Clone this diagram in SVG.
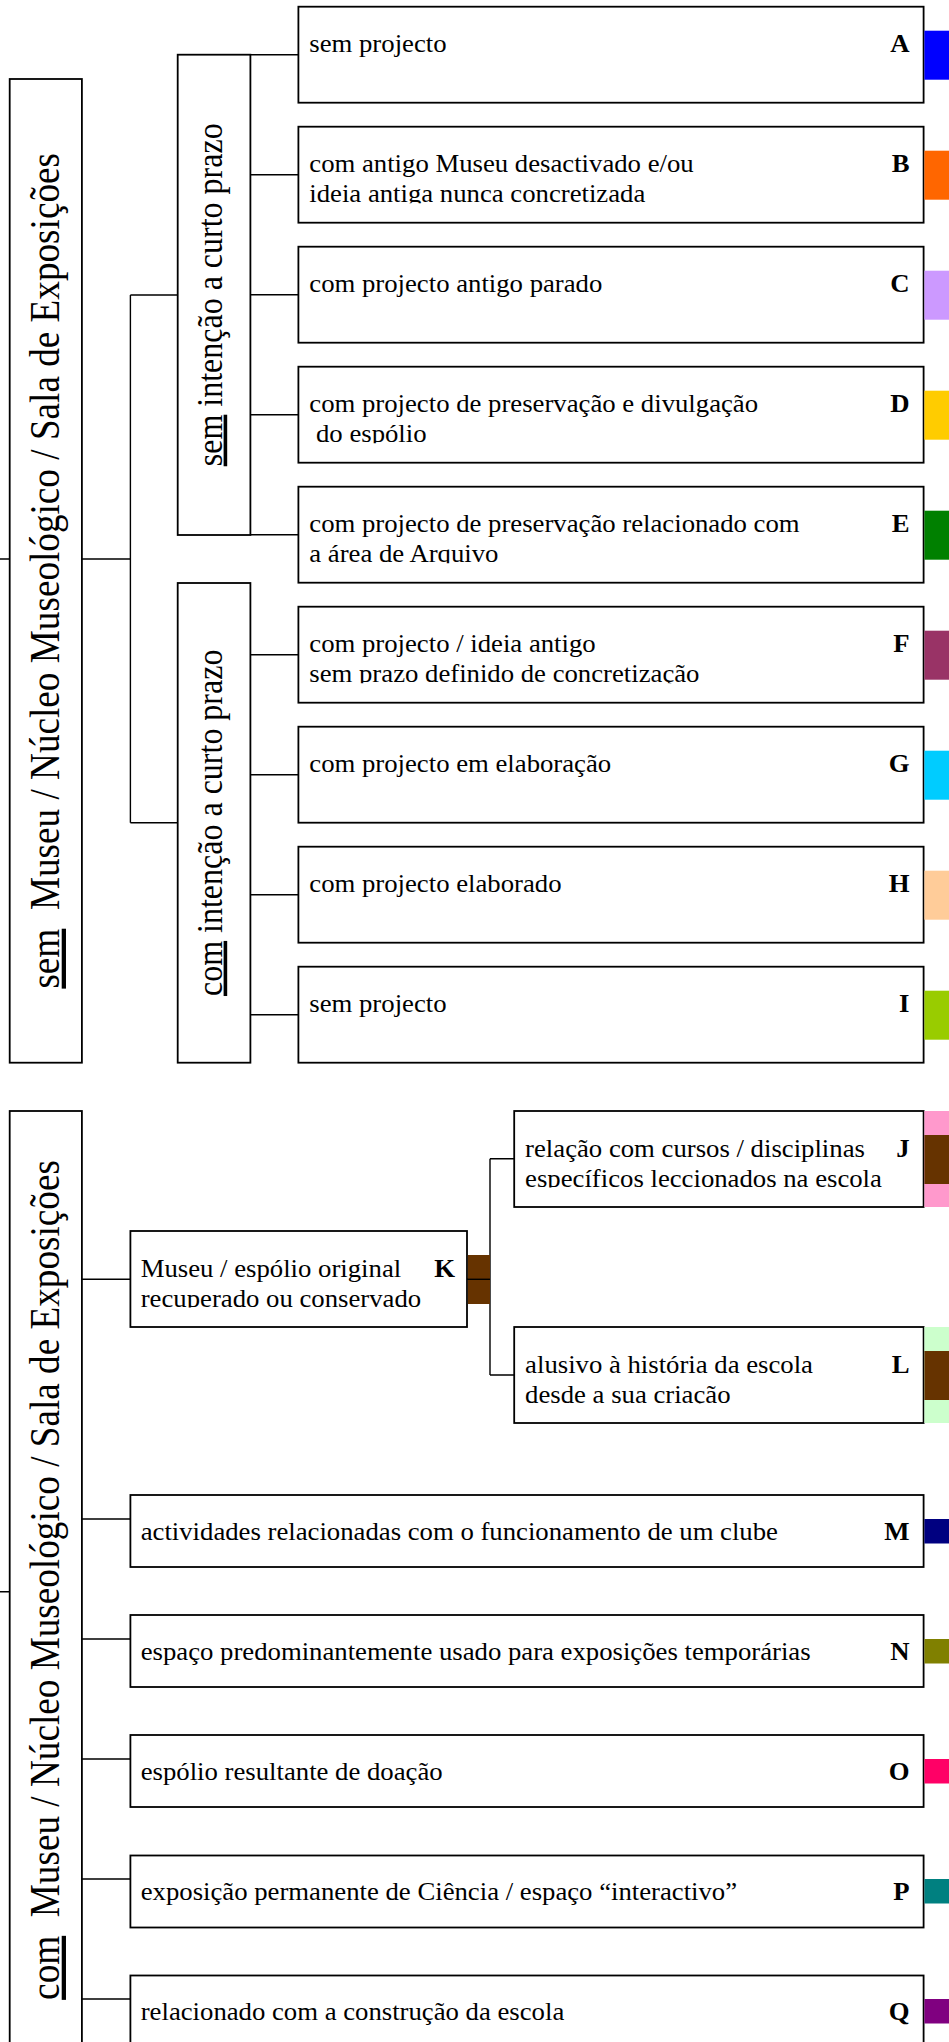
<svg xmlns="http://www.w3.org/2000/svg" width="949" height="2042" viewBox="0 0 949 2042">
<style>
.bg{fill:#fff}
.box{fill:#fff;stroke:#000;stroke-width:1.8}
.c{stroke:#000;stroke-width:1.4;fill:none}
.t{font-family:"Liberation Serif","Times New Roman",serif;font-size:24.3px;fill:#000}
.l{font-weight:bold}
.v1{font-size:37.2px}
.v2{font-size:32px}
</style>
<defs>
<clipPath id="cB"><rect x="300" y="128" width="620" height="75.2"/></clipPath>
<clipPath id="cD"><rect x="300" y="368" width="620" height="75.2"/></clipPath>
<clipPath id="cE"><rect x="300" y="488" width="620" height="75.2"/></clipPath>
<clipPath id="cF"><rect x="300" y="608" width="620" height="75.2"/></clipPath>
<clipPath id="cJ"><rect x="516" y="1112" width="400" height="75.5"/></clipPath>
<clipPath id="cK"><rect x="132" y="1232" width="330" height="75.5"/></clipPath>
<clipPath id="cL"><rect x="516" y="1328" width="400" height="75.5"/></clipPath>
</defs>
<rect class="bg" x="0" y="0" width="949" height="2042"/>

<g id="connectors">
<path class="c" d="M0,559H9.7M81.9,559H130.4M130.4,295V822.7M130.4,295H177.7M130.4,822.7H177.7"/>
<path class="c" d="M250.4,54.7H298.4M250.4,174.7H298.4M250.4,294.7H298.4M250.4,414.7H298.4M250.4,534.7H298.4"/>
<path class="c" d="M250.4,654.7H298.4M250.4,774.7H298.4M250.4,894.7H298.4M250.4,1014.7H298.4"/>
<path class="c" d="M0,1591.7H9.7M81.9,1279.3H130.4M467,1279.3H490M490,1158.7V1375M490,1158.7H514.2M490,1375H514.2"/>
<path class="c" d="M81.9,1519H130.4M81.9,1639H130.4M81.9,1759H130.4M81.9,1879H130.4M81.9,1999H130.4"/>
</g>

<g id="node-sem-museu">
<rect class="box" x="9.7" y="79" width="72.2" height="983.7"/>
<text class="t v1" text-anchor="middle" transform="translate(58.5,570.8) scale(1.15,1) rotate(-90)"><tspan text-decoration="underline">sem</tspan>&#160; Museu / Núcleo Museológico / Sala de Exposições</text>
</g>

<g id="node-sem-intencao">
<rect class="box" x="177.7" y="54.7" width="72.7" height="480.3"/>
<text class="t v2" text-anchor="middle" transform="translate(221.5,294.8) scale(1.12,1) rotate(-90)"><tspan text-decoration="underline">sem</tspan> intenção a curto prazo</text>
</g>

<g id="node-com-intencao">
<rect class="box" x="177.7" y="583" width="72.7" height="479.7"/>
<text class="t v2" text-anchor="middle" transform="translate(221.5,822.8) scale(1.12,1) rotate(-90)"><tspan text-decoration="underline">com</tspan> intenção a curto prazo</text>
</g>

<g id="node-A">
<rect class="box" x="298.4" y="6.7" width="625.2" height="96"/>
<rect x="924.4" y="30.7" width="26" height="49" fill="#0000FF"/>
<text class="t" transform="translate(309.3,52.2) scale(1.1,1)">sem projecto</text>
<text class="t l" text-anchor="end" transform="translate(909.5,52.2) scale(1.1,1)">A</text>
</g>

<g id="node-B">
<rect class="box" x="298.4" y="126.7" width="625.2" height="96"/>
<rect x="924.4" y="150.7" width="26" height="49" fill="#FF6600"/>
<g clip-path="url(#cB)">
<text class="t" transform="translate(309.3,172.2) scale(1.1,1)">com antigo Museu desactivado e/ou</text>
<text class="t" transform="translate(309.3,202.2) scale(1.1,1)">ideia antiga nunca concretizada</text>
</g>
<text class="t l" text-anchor="end" transform="translate(909.5,172.2) scale(1.1,1)">B</text>
</g>

<g id="node-C">
<rect class="box" x="298.4" y="246.7" width="625.2" height="96"/>
<rect x="924.4" y="270.7" width="26" height="49" fill="#CC99FF"/>
<text class="t" transform="translate(309.3,292.2) scale(1.1,1)">com projecto antigo parado</text>
<text class="t l" text-anchor="end" transform="translate(909.5,292.2) scale(1.1,1)">C</text>
</g>

<g id="node-D">
<rect class="box" x="298.4" y="366.7" width="625.2" height="96"/>
<rect x="924.4" y="390.7" width="26" height="49" fill="#FFCC00"/>
<g clip-path="url(#cD)">
<text class="t" transform="translate(309.3,412.2) scale(1.1,1)">com projecto de preservação e divulgação</text>
<text class="t" transform="translate(316,442.2) scale(1.1,1)">do espólio</text>
</g>
<text class="t l" text-anchor="end" transform="translate(909.5,412.2) scale(1.1,1)">D</text>
</g>

<g id="node-E">
<rect class="box" x="298.4" y="486.7" width="625.2" height="96"/>
<rect x="924.4" y="510.7" width="26" height="49" fill="#008000"/>
<g clip-path="url(#cE)">
<text class="t" transform="translate(309.3,532.2) scale(1.1,1)">com projecto de preservação relacionado com</text>
<text class="t" transform="translate(309.3,562.2) scale(1.1,1)">a área de Arquivo</text>
</g>
<text class="t l" text-anchor="end" transform="translate(909.5,532.2) scale(1.1,1)">E</text>
</g>

<g id="node-F">
<rect class="box" x="298.4" y="606.7" width="625.2" height="96"/>
<rect x="924.4" y="630.7" width="26" height="49" fill="#993366"/>
<g clip-path="url(#cF)">
<text class="t" transform="translate(309.3,652.2) scale(1.1,1)">com projecto / ideia antigo</text>
<text class="t" transform="translate(309.3,682.2) scale(1.1,1)">sem prazo definido de concretização</text>
</g>
<text class="t l" text-anchor="end" transform="translate(909.5,652.2) scale(1.1,1)">F</text>
</g>

<g id="node-G">
<rect class="box" x="298.4" y="726.7" width="625.2" height="96"/>
<rect x="924.4" y="750.7" width="26" height="49" fill="#00CCFF"/>
<text class="t" transform="translate(309.3,772.2) scale(1.1,1)">com projecto em elaboração</text>
<text class="t l" text-anchor="end" transform="translate(909.5,772.2) scale(1.1,1)">G</text>
</g>

<g id="node-H">
<rect class="box" x="298.4" y="846.7" width="625.2" height="96"/>
<rect x="924.4" y="870.7" width="26" height="49" fill="#FFCC99"/>
<text class="t" transform="translate(309.3,892.2) scale(1.1,1)">com projecto elaborado</text>
<text class="t l" text-anchor="end" transform="translate(909.5,892.2) scale(1.1,1)">H</text>
</g>

<g id="node-I">
<rect class="box" x="298.4" y="966.7" width="625.2" height="96"/>
<rect x="924.4" y="990.7" width="26" height="49" fill="#99CC00"/>
<text class="t" transform="translate(309.3,1012.2) scale(1.1,1)">sem projecto</text>
<text class="t l" text-anchor="end" transform="translate(909.5,1012.2) scale(1.1,1)">I</text>
</g>

<g id="node-com-museu">
<rect class="box" x="9.7" y="1111" width="72.2" height="960"/>
<text class="t v1" text-anchor="middle" transform="translate(58.5,1580) scale(1.15,1) rotate(-90)"><tspan text-decoration="underline">com</tspan>&#160; Museu / Núcleo Museológico / Sala de Exposições</text>
</g>

<g id="node-K">
<rect class="box" x="130.4" y="1231" width="336.6" height="96"/>
<rect x="467.9" y="1255" width="22.1" height="49" fill="#663300"/>
<line class="c" x1="467" y1="1279.3" x2="490" y2="1279.3"/>
<g clip-path="url(#cK)">
<text class="t" transform="translate(140.7,1276.5) scale(1.1,1)">Museu / espólio original</text>
<text class="t" transform="translate(140.7,1306.5) scale(1.1,1)">recuperado ou conservado</text>
</g>
<text class="t l" text-anchor="end" transform="translate(455,1276.5) scale(1.1,1)">K</text>
</g>

<g id="node-J">
<rect class="box" x="514.2" y="1111" width="409.4" height="96"/>
<rect x="924.4" y="1111" width="26" height="96" fill="#FF99CC"/>
<rect x="924.4" y="1135" width="26" height="49" fill="#663300"/>
<g clip-path="url(#cJ)">
<text class="t" transform="translate(525.1,1156.5) scale(1.1,1)">relação com cursos / disciplinas</text>
<text class="t" transform="translate(525.1,1186.5) scale(1.1,1)">específicos leccionados na escola</text>
</g>
<text class="t l" text-anchor="end" transform="translate(909.5,1156.5) scale(1.1,1)">J</text>
</g>

<g id="node-L">
<rect class="box" x="514.2" y="1327" width="409.4" height="96"/>
<rect x="924.4" y="1327" width="26" height="96" fill="#CCFFCC"/>
<rect x="924.4" y="1351" width="26" height="49" fill="#663300"/>
<g clip-path="url(#cL)">
<text class="t" transform="translate(525.1,1372.5) scale(1.1,1)">alusivo à história da escola</text>
<text class="t" transform="translate(525.1,1402.5) scale(1.1,1)">desde a sua criação</text>
</g>
<text class="t l" text-anchor="end" transform="translate(909.5,1372.5) scale(1.1,1)">L</text>
</g>

<g id="node-M">
<rect class="box" x="130.4" y="1495" width="793.2" height="72"/>
<rect x="924.4" y="1519" width="26" height="24.5" fill="#000080"/>
<text class="t" transform="translate(140.7,1540) scale(1.1,1)">actividades relacionadas com o funcionamento de um clube</text>
<text class="t l" text-anchor="end" transform="translate(909.5,1540) scale(1.1,1)">M</text>
</g>

<g id="node-N">
<rect class="box" x="130.4" y="1615" width="793.2" height="72"/>
<rect x="924.4" y="1639" width="26" height="24.5" fill="#808000"/>
<text class="t" transform="translate(140.7,1660) scale(1.1,1)">espaço predominantemente usado para exposições temporárias</text>
<text class="t l" text-anchor="end" transform="translate(909.5,1660) scale(1.1,1)">N</text>
</g>

<g id="node-O">
<rect class="box" x="130.4" y="1735" width="793.2" height="72"/>
<rect x="924.4" y="1759" width="26" height="24.5" fill="#FF0066"/>
<text class="t" transform="translate(140.7,1780) scale(1.1,1)">espólio resultante de doação</text>
<text class="t l" text-anchor="end" transform="translate(909.5,1780) scale(1.1,1)">O</text>
</g>

<g id="node-P">
<rect class="box" x="130.4" y="1855.5" width="793.2" height="72"/>
<rect x="924.4" y="1879" width="26" height="24.5" fill="#008080"/>
<text class="t" transform="translate(140.7,1900) scale(1.1,1)">exposição permanente de Ciência / espaço “interactivo”</text>
<text class="t l" text-anchor="end" transform="translate(909.5,1900) scale(1.1,1)">P</text>
</g>

<g id="node-Q">
<rect class="box" x="130.4" y="1975.5" width="793.2" height="72"/>
<rect x="924.4" y="1999" width="26" height="24.5" fill="#800080"/>
<text class="t" transform="translate(140.7,2020) scale(1.1,1)">relacionado com a construção da escola</text>
<text class="t l" text-anchor="end" transform="translate(909.5,2020) scale(1.1,1)">Q</text>
</g>
</svg>
